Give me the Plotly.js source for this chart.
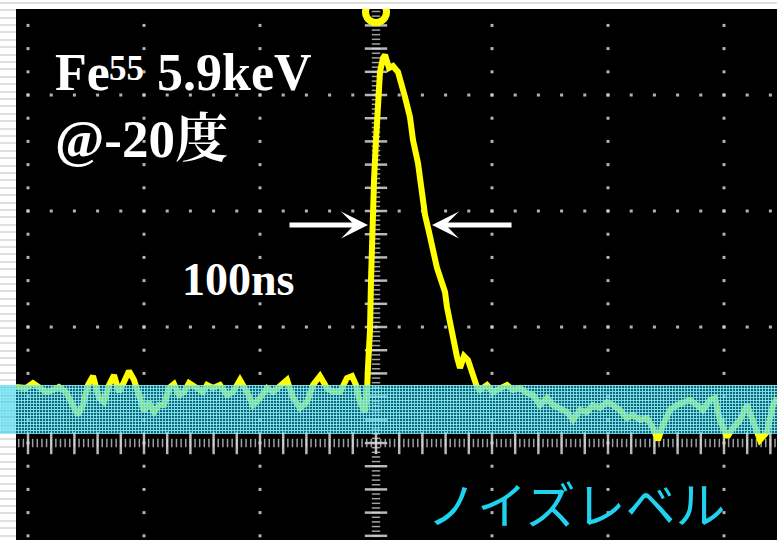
<!DOCTYPE html>
<html>
<head>
<meta charset="utf-8">
<script src="https://cdn.plot.ly/plotly-3.0.1.min.js"></script>
<style>
  html, body { margin: 0; padding: 0; width: 777px; height: 540px; overflow: hidden; }
  body {
    background: repeating-linear-gradient(to bottom,
      #ffffff 0px, #ffffff 1.7px, #e0e0e0 1.7px, #e0e0e0 3.7px, #ffffff 3.7px, #ffffff 7.4px);
  }
  #chart { width: 777px; height: 540px; }
</style>
</head>
<body>
<div id="chart"></div>
<script>
// ---- Oscilloscope trace: Fe55 5.9 keV pulse (200 ns/div, 20 mV/div) ----
const timeNs = [
  -620.7, -603.4, -591.4, -581.0, -569.0, -556.9, -546.6, -534.5, -522.4, -513.8,
  -505.2, -496.6, -487.9, -477.6, -469.0, -460.3, -451.7, -443.1, -434.5, -425.9,
  -417.2, -408.6, -400.0, -391.4, -382.8, -374.1, -365.5, -356.9, -348.3, -339.7,
  -331.0, -322.4, -310.3, -298.3, -291.4, -281.0, -269.0, -256.9, -246.6, -234.5,
  -222.4, -212.1, -200.0, -187.9, -177.6, -165.5, -153.4, -143.1, -131.0, -119.0,
  -108.6, -96.6, -84.5, -74.1, -62.1, -50.0, -41.4, -34.5,
  -27.6, -19.0, -15.5, -13.8, -10.3, -8.6, -6.9, -3.4, 0.0, 3.4,
  6.9, 12.1, 15.5, 22.4, 29.3, 37.9, 44.8, 50.0, 58.6, 63.8,
  72.4, 77.6, 84.5, 91.4, 98.3, 105.2, 112.1, 119.0, 122.4, 127.6,
  132.8, 139.7, 144.8, 151.7, 158.6, 165.5, 174.1,
  179.3, 191.4, 201.7, 213.8, 225.9, 236.2, 248.3, 260.3, 270.7, 282.8,
  294.8, 305.2, 317.2, 329.3, 339.7, 351.7, 363.8, 374.1, 386.2, 398.3,
  408.6, 420.7, 432.8, 443.1, 455.2, 467.2, 477.6, 486.2, 494.8, 506.9,
  519.0, 529.3, 541.4, 553.4, 563.8, 575.9, 584.5, 593.1, 605.2, 615.5,
  627.6, 639.7, 648.3, 662.1, 674.1, 684.5, 691.4
];
const signalMv = [
  9.66, 9.48, 10.34, 9.48, 8.79, 9.14, 9.66, 8.79, 6.55, 4.83,
  6.55, 10.00, 11.55, 7.76, 7.07, 10.00, 11.72, 8.79, 10.52, 12.41,
  10.86, 7.76, 5.52, 7.07, 5.34, 6.55, 6.55, 9.48, 10.17, 8.28,
  8.79, 10.34, 9.48, 8.79, 10.00, 9.48, 10.00, 8.28, 8.79, 10.86,
  8.79, 6.55, 7.76, 9.48, 8.79, 10.00, 10.86, 7.76, 6.03, 7.07,
  10.00, 11.55, 9.48, 8.79, 8.79, 11.21, 11.55, 10.00,
  7.07, 5.34, 8.79, 13.10, 19.48, 28.10, 37.59, 45.34, 52.24, 59.14,
  63.97, 66.38, 66.90, 64.66, 65.00, 63.97, 61.72, 59.66, 56.21, 52.24,
  48.28, 44.48, 39.31, 36.38, 32.93, 30.17, 28.10, 26.03, 23.45, 20.69,
  17.76, 14.83, 12.93, 15.00, 14.31, 12.07, 9.66,
  9.14, 10.00, 8.79, 9.48, 10.00, 9.14, 9.48, 8.62, 8.28, 6.55,
  7.76, 6.55, 6.03, 5.34, 3.97, 5.69, 5.34, 6.55, 6.03, 7.07,
  6.55, 5.69, 4.31, 4.83, 3.97, 4.31, 2.59, 0.52, 3.10, 5.69,
  6.55, 6.90, 7.41, 6.55, 5.69, 7.41, 7.76, 3.97, 1.03, 2.59,
  3.97, 6.55, 3.97, 0.52, 1.90, 6.55, 7.76
];

// Noise level band (mV)
const noiseBandMv = [1.72, 10.0];
// FWHM markers (ns, mV)
const fwhmStartNs = -13.8, fwhmEndNs = 96.6, fwhmLevelMv = 37.6;
// Trigger marker position
const triggerNs = 0, triggerMv = 74.3;

// Labels
const labelFe = "<b>Fe</b>";
const labelMass = "<b>55</b>";
const labelEnergy = "<b>5.9keV</b>";
const labelTemp = "<b>@-20度</b>";
const widthLabel = "<b>100ns</b>";
const noiseLabel = "ノイズレベル";

// Scope graticule
const xRange = [-620.7, 691.4], yRange = [-16.72, 74.83];
const xMajorStep = 200, xMinorStep = 40, yMajorStep = 20, yMinorStep = 4;

// graticule dots
const gx = [], gy = [];
for (let xm = -600; xm <= 600; xm += xMajorStep) {
  if (xm === 0) continue;
  for (let y = -16; y <= 74; y += yMinorStep) { gx.push(xm); gy.push(y); }
}
for (let ym = yMajorStep; ym <= 60; ym += yMajorStep) {
  for (let x = -600; x <= 680; x += xMinorStep) { gx.push(x); gy.push(ym); }
}
// center axis ticks
const vLongY = [], vShortY = [];
for (let y = -16; y <= 74; y += yMinorStep) vLongY.push(y);
for (let y = -16; y <= 74.5; y += yMinorStep / 5) vShortY.push(y);
const hLongX = [], hShortX = [];
for (let x = -600; x <= 680; x += xMinorStep) hLongX.push(x);
for (let x = -616; x <= 690; x += xMinorStep / 5) hShortX.push(x);

const tickCol = 'rgba(215,215,215,0.85)';
const traces = [
  { x: gx, y: gy, type: 'scatter', mode: 'markers', hoverinfo: 'skip',
    marker: { symbol: 'square', size: 3, color: 'rgba(210,210,210,0.85)' } },
  { x: vShortY.map(() => 0), y: vShortY, type: 'scatter', mode: 'markers', hoverinfo: 'skip',
    marker: { symbol: 'line-ew', size: 6, line: { width: 1.5, color: 'rgba(200,200,200,0.8)' } } },
  { x: vLongY.map(() => 0), y: vLongY, type: 'scatter', mode: 'markers', hoverinfo: 'skip',
    marker: { symbol: 'line-ew', size: 16, line: { width: 2.5, color: tickCol } } },
  { x: hShortX, y: hShortX.map(() => 0), type: 'scatter', mode: 'markers', hoverinfo: 'skip',
    marker: { symbol: 'line-ns', size: 6, line: { width: 1.5, color: 'rgba(200,200,200,0.8)' } } },
  { x: hLongX, y: hLongX.map(() => 0), type: 'scatter', mode: 'markers', hoverinfo: 'skip',
    marker: { symbol: 'line-ns', size: 16, line: { width: 2.5, color: tickCol } } },
  { x: timeNs, y: signalMv, type: 'scatter', mode: 'lines', hoverinfo: 'skip',
    line: { color: '#ffff00', width: 6, shape: 'linear' } },
  { x: [triggerNs], y: [triggerMv], type: 'scatter', mode: 'markers', hoverinfo: 'skip', cliponaxis: true,
    marker: { symbol: 'circle-open', size: 21, color: '#ffff00', line: { width: 7, color: '#ffff00' } } }
];

// band texture path (paper x, data y), aligned to pixel centres
const plotW = 761, pxPerMv = 531 / (yRange[1] - yRange[0]);
let texPath = '';
const x0p = -16 / plotW;
for (let c = 0; c < 777; c += 3) {
  const xp = ((c + 0.5 - 16) / plotW).toFixed(5);
  texPath += `M${xp},${noiseBandMv[0]}L${xp},${noiseBandMv[1]}`;
}
for (let r = 385; r <= 433; r += 3) {
  const yv = (yRange[1] - (r + 0.5 - 9) / pxPerMv).toFixed(4);
  texPath += `M${x0p.toFixed(5)},${yv}L1,${yv}`;
}

const serif = 'Liberation Serif, Times New Roman, serif';
const layout = {
  width: 777, height: 540,
  margin: { l: 16, r: 0, t: 9, b: 0, pad: 0 },
  paper_bgcolor: 'rgba(0,0,0,0)',
  plot_bgcolor: '#000000',
  showlegend: false,
  xaxis: { range: xRange, autorange: false, showgrid: false, zeroline: false,
           showticklabels: false, ticks: '', showline: false, fixedrange: true },
  yaxis: { range: yRange, autorange: false, showgrid: false, zeroline: false,
           showticklabels: false, ticks: '', showline: false, fixedrange: true },
  shapes: [
    { type: 'rect', layer: 'above', xref: 'paper', yref: 'y',
      x0: x0p, x1: 1, y0: noiseBandMv[0], y1: noiseBandMv[1],
      fillcolor: 'rgba(40,185,205,0.55)', line: { width: 0 } },
    { type: 'path', layer: 'above', xref: 'paper', yref: 'y', path: texPath,
      line: { width: 1, color: 'rgba(130,236,252,0.85)' } }
  ],
  annotations: [
    { text: labelFe, xref: 'paper', yref: 'paper', x: 37 / plotW, y: 1 - (72 - 9) / 531,
      xanchor: 'left', yanchor: 'middle', showarrow: false,
      font: { family: serif, size: 52, color: '#ffffff' } },
    { text: labelMass, xref: 'paper', yref: 'paper', x: 91 / plotW, y: 1 - (68 - 9) / 531,
      xanchor: 'left', yanchor: 'middle', showarrow: false,
      font: { family: serif, size: 35, color: '#ffffff' } },
    { text: labelEnergy, xref: 'paper', yref: 'paper', x: 139 / plotW, y: 1 - (72 - 9) / 531,
      xanchor: 'left', yanchor: 'middle', showarrow: false,
      font: { family: serif, size: 52, color: '#ffffff' } },
    { text: labelTemp, xref: 'paper', yref: 'paper', x: 37 / plotW, y: 1 - (139 - 9) / 531,
      xanchor: 'left', yanchor: 'middle', showarrow: false,
      font: { family: 'Liberation Serif, Noto Serif CJK JP, Noto Sans CJK JP, serif', size: 53, color: '#ffffff' } },
    { text: widthLabel, xref: 'paper', yref: 'paper', x: 164 / plotW, y: 1 - (279 - 9) / 531,
      xanchor: 'left', yanchor: 'middle', showarrow: false,
      font: { family: serif, size: 46, color: '#ffffff' } },
    { text: noiseLabel, xref: 'paper', yref: 'paper', x: (576 - 16) / plotW, y: 0,
      xanchor: 'center', yanchor: 'bottom', showarrow: false,
      font: { family: 'Noto Sans CJK JP, sans-serif', size: 50, color: '#1fd3ef' } },
    { text: '', x: fwhmStartNs, y: fwhmLevelMv, xref: 'x', yref: 'y', ax: -80, ay: 0,
      showarrow: true, arrowhead: 3, arrowsize: 0.9, arrowwidth: 5, arrowcolor: '#ffffff' },
    { text: '', x: fwhmEndNs, y: fwhmLevelMv, xref: 'x', yref: 'y', ax: 81, ay: 0,
      showarrow: true, arrowhead: 3, arrowsize: 0.9, arrowwidth: 5, arrowcolor: '#ffffff' }
  ]
};

Plotly.newPlot('chart', traces, layout, { staticPlot: true, displayModeBar: false });
</script>
</body>
</html>
